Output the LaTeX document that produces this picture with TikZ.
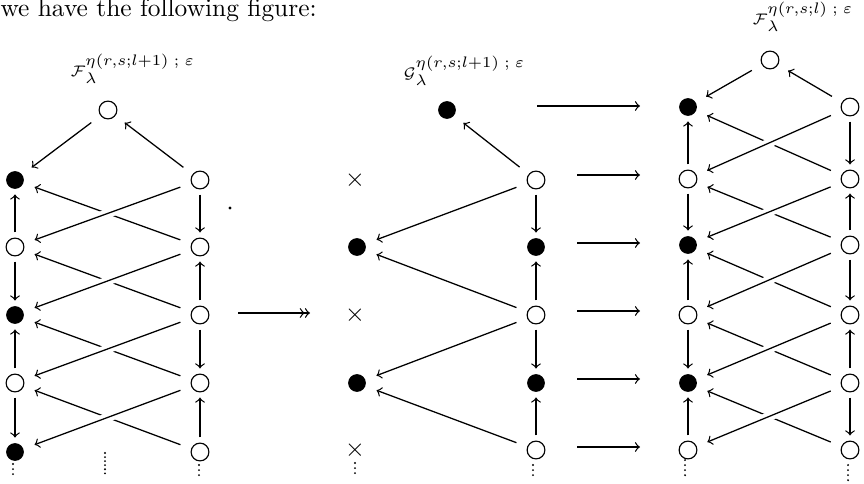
\documentclass[tikz,border=0pt]{standalone}
\usetikzlibrary{arrows}
\usepackage{amsmath}
\usepackage{amssymb}

\begin{document}
\begin{tikzpicture}[x=0.3937pt, y=-0.3937pt]
	\tikzstyle {open point} = [circle, draw, line width=0.45pt, minimum size=7pt, inner sep=0pt]
	\tikzstyle {full point} = [circle, fill, minimum size=7pt, inner sep=0pt]
	\tikzstyle {cross point} = [inner sep=0pt]
	\tikzstyle {vert line} = [->, line width=0.5pt, shorten <=2pt, shorten >=2pt]
	\tikzstyle {slant line} = [->, line width=0.5pt, shorten <=4.5pt, shorten >=4.5pt]
	\tikzstyle {over line} = [slant line, preaction={draw=white, line width=3.5pt, -}]
	\tikzstyle {map line} = [->, line width=0.5pt]
	\tikzstyle {dot line} = [line width=0.8pt, line cap=round, dash pattern=on 0pt off 2pt]
	\tikzstyle {label text} = [anchor=base west, inner sep=0pt, font=\small]

	\useasboundingbox (0,0) rectangle (864,484);

	\node[anchor=base west, inner sep=0pt] (intro) at (0,17) {we have the following figure:};

	% first picture
	\node[label text] (aLab) at (70,77) {${\scriptstyle\mathcal{F}}^{\eta(r,s;l+1)\;;\;\varepsilon}_{\lambda}$};
	\node[open point] (aT) at (108,110) {};
	\node[full point] (aL1) at (15,180) {};
	\node[open point] (aR1) at (200,180) {};
	\node[open point] (aL2) at (15,247) {};
	\node[open point] (aR2) at (200,247) {};
	\node[full point] (aL3) at (15,315) {};
	\node[open point] (aR3) at (200,315) {};
	\node[open point] (aL4) at (15,383) {};
	\node[open point] (aR4) at (200,383) {};
	\node[full point] (aL5) at (15,452) {};
	\node[open point] (aR5) at (200,452) {};

	\draw[slant line] (aT) -- (aL1);
	\draw[slant line] (aR1) -- (aT);
	\draw[slant line] (aR2) -- (aL1);
	\draw[slant line] (aR3) -- (aL2);
	\draw[slant line] (aR4) -- (aL3);
	\draw[slant line] (aR5) -- (aL4);
	\draw[over line] (aR1) -- (aL2);
	\draw[over line] (aR2) -- (aL3);
	\draw[over line] (aR3) -- (aL4);
	\draw[over line] (aR4) -- (aL5);

	\draw[vert line] (aL2) -- (aL1);
	\draw[vert line] (aL2) -- (aL3);
	\draw[vert line] (aL4) -- (aL3);
	\draw[vert line] (aL4) -- (aL5);
	\draw[vert line] (aR1) -- (aR2);
	\draw[vert line] (aR3) -- (aR2);
	\draw[vert line] (aR3) -- (aR4);
	\draw[vert line] (aR5) -- (aR4);

	\draw[dot line] (13,464) -- (13,478);
	\draw[dot line, dash pattern=on 0pt off 1.6pt] (105,453) -- (105,474);
	\draw[dot line] (199,465) -- (199,480);
	\fill (230,208) circle (0.6pt);

	\coordinate (p0) at (238,313);
	\coordinate (p1) at (310,313);
	\draw[map line, ->>] (p0) -- (p1);

	% second picture
	\node[label text] (bLab) at (403,79) {${\scriptstyle\mathcal{G}}^{\eta(r,s;l+1)\;;\;\varepsilon}_{\lambda}$};
	\node[full point] (bT) at (447,110) {};
	\node[cross point] (bL1) at (355,180) {$\times$};
	\node[open point] (bR1) at (536,180) {};
	\node[full point] (bL2) at (357,247) {};
	\node[full point] (bR2) at (536,247) {};
	\node[cross point] (bL3) at (355,315) {$\times$};
	\node[open point] (bR3) at (536,315) {};
	\node[full point] (bL4) at (357,383) {};
	\node[full point] (bR4) at (536,383) {};
	\node[cross point] (bL5) at (355,450) {$\times$};
	\node[open point] (bR5) at (536,450) {};

	\draw[slant line] (bR1) -- (bT);
	\draw[slant line] (bR1) -- (bL2);
	\draw[slant line] (bR3) -- (bL2);
	\draw[slant line] (bR3) -- (bL4);
	\draw[slant line] (bR5) -- (bL4);

	\draw[vert line] (bR1) -- (bR2);
	\draw[vert line] (bR3) -- (bR2);
	\draw[vert line] (bR3) -- (bR4);
	\draw[vert line] (bR5) -- (bR4);

	\draw[dot line] (355,463) -- (355,478);
	\draw[dot line] (533,465) -- (533,480);

	\coordinate (h0) at (537,106);
	\coordinate (k0) at (640,106);
	\coordinate (h1) at (577,175);
	\coordinate (k1) at (640,175);
	\coordinate (h2) at (577,243);
	\coordinate (k2) at (640,243);
	\coordinate (h3) at (577,311);
	\coordinate (k3) at (640,311);
	\coordinate (h4) at (577,379);
	\coordinate (k4) at (640,379);
	\coordinate (h5) at (577,447);
	\coordinate (k5) at (640,447);
	\draw[map line] (h0) -- (k0);
	\draw[map line] (h1) -- (k1);
	\draw[map line] (h2) -- (k2);
	\draw[map line] (h3) -- (k3);
	\draw[map line] (h4) -- (k4);
	\draw[map line] (h5) -- (k5);

	% third picture
	\node[label text] (cLab) at (752,25) {${\scriptstyle\mathcal{F}}^{\eta(r,s;l)\;;\;\varepsilon}_{\lambda}$};
	\node[open point] (cT) at (770,60) {};
	\node[full point] (cL1) at (688,107) {};
	\node[open point] (cR1) at (850,107) {};
	\node[open point] (cL2) at (688,179) {};
	\node[open point] (cR2) at (850,179) {};
	\node[full point] (cL3) at (688,245) {};
	\node[open point] (cR3) at (850,245) {};
	\node[open point] (cL4) at (688,315) {};
	\node[open point] (cR4) at (850,315) {};
	\node[full point] (cL5) at (688,383) {};
	\node[open point] (cR5) at (850,383) {};
	\node[open point] (cL6) at (688,450) {};
	\node[open point] (cR6) at (850,450) {};

	\draw[slant line] (cT) -- (cL1);
	\draw[slant line] (cR1) -- (cT);
	\draw[slant line] (cR2) -- (cL1);
	\draw[slant line] (cR3) -- (cL2);
	\draw[slant line] (cR4) -- (cL3);
	\draw[slant line] (cR5) -- (cL4);
	\draw[slant line] (cR6) -- (cL5);
	\draw[over line] (cR1) -- (cL2);
	\draw[over line] (cR2) -- (cL3);
	\draw[over line] (cR3) -- (cL4);
	\draw[over line] (cR4) -- (cL5);
	\draw[over line] (cR5) -- (cL6);

	\draw[vert line] (cL2) -- (cL1);
	\draw[vert line] (cL2) -- (cL3);
	\draw[vert line] (cL4) -- (cL3);
	\draw[vert line] (cL4) -- (cL5);
	\draw[vert line] (cL6) -- (cL5);
	\draw[vert line] (cR1) -- (cR2);
	\draw[vert line] (cR3) -- (cR2);
	\draw[vert line] (cR3) -- (cR4);
	\draw[vert line] (cR5) -- (cR4);
	\draw[vert line] (cR5) -- (cR6);

	\draw[dot line] (685,460) -- (685,480);
	\draw[dot line] (848,465) -- (848,482);
\end{tikzpicture}
\end{document}
